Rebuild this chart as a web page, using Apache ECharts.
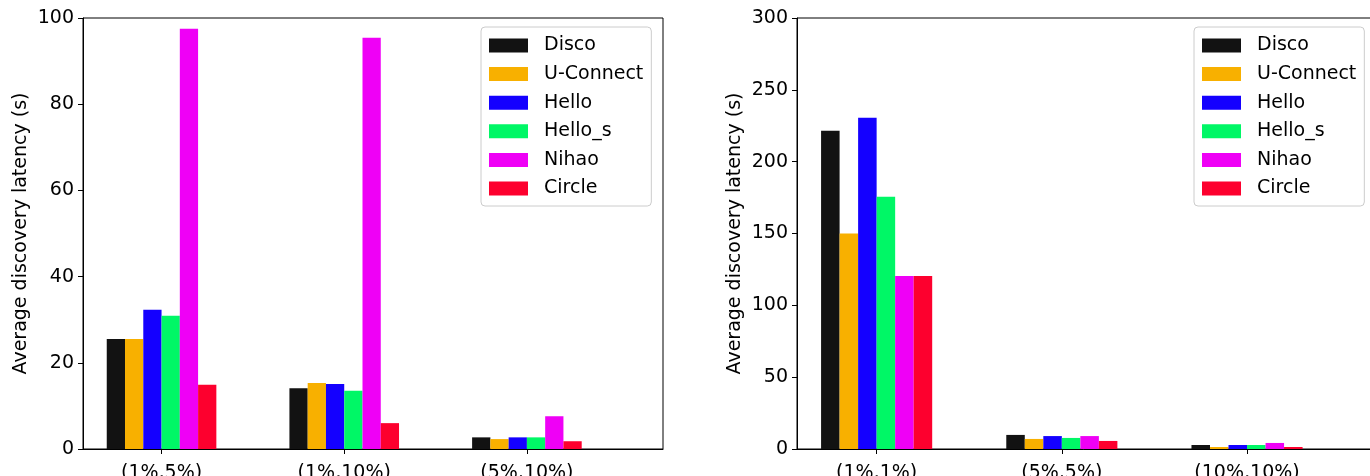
<!DOCTYPE html>
<html>
<head>
<meta charset="utf-8">
<title>Average discovery latency</title>
<script src="https://cdn.jsdelivr.net/npm/echarts@6/dist/echarts.min.js"></script>
<style>
  html, body { margin: 0; padding: 0; background: #fff; }
  #chart { width: 1370px; height: 476px; }
</style>
</head>
<body>
<div id="chart"></div>
<script>
// Protocol names and bar colours
const protocols = ['Disco', 'U-Connect', 'Hello', 'Hello_s', 'Nihao', 'Circle'];
const colors = ['#121212', '#f8b000', '#1400ff', '#00f766', '#ef00f6', '#fd002e'];

// Left panel: asymmetric duty-cycle pairs
const leftCategories = ['(1%,5%)', '(1%,10%)', '(5%,10%)'];
const leftDisco    = [25.5, 14.1, 2.7];
const leftUConnect = [25.5, 15.3, 2.3];
const leftHello    = [32.3, 15.1, 2.7];
const leftHelloS   = [30.9, 13.5, 2.7];
const leftNihao    = [97.5, 95.4, 7.6];
const leftCircle   = [14.9, 6.0, 1.8];

// Right panel: symmetric duty-cycle pairs
const rightCategories = ['(1%,1%)', '(5%,5%)', '(10%,10%)'];
const rightDisco    = [221.5, 9.8, 2.8];
const rightUConnect = [150.0, 7.0, 1.4];
const rightHello    = [230.5, 9.0, 2.8];
const rightHelloS   = [175.5, 7.7, 2.8];
const rightNihao    = [120.5, 9.0, 4.2];
const rightCircle   = [120.5, 5.6, 1.4];

const leftTicks = [0, 20, 40, 60, 80, 100];
const rightTicks = [0, 50, 100, 150, 200, 250, 300];

const leftSeries = [leftDisco, leftUConnect, leftHello, leftHelloS, leftNihao, leftCircle];
const rightSeries = [rightDisco, rightUConnect, rightHello, rightHelloS, rightNihao, rightCircle];

const FONT = 'DejaVu Sans';
const FS = 19;
const X_MIN = -0.43, X_MAX = 2.745;   // x range in category units
const BAR = 0.1;                       // bar width in category units

const grids = [
  { left: 83, top: 18, right: 707, bottom: 27 },
  { left: 797, top: 18, right: -15, bottom: 27 }
];

function xAxis(idx, cats) {
  return {
    type: 'value', gridIndex: idx, min: X_MIN, max: X_MAX,
    axisLine: { show: true, onZero: false, lineStyle: { color: '#000', width: 1 } },
    axisTick: { show: true, customValues: [0, 1, 2], length: 5, lineStyle: { color: '#000' } },
    axisLabel: {
      customValues: [0, 1, 2], margin: 15,
      formatter: v => cats[Math.round(v)],
      fontFamily: FONT, fontSize: FS, color: '#000'
    },
    splitLine: { show: false }
  };
}

function yAxis(idx, ticks) {
  return {
    type: 'value', gridIndex: idx,
    min: ticks[0], max: ticks[ticks.length - 1], interval: ticks[1] - ticks[0],
    name: 'Average discovery latency (s)', nameLocation: 'middle', nameGap: 52,
    nameTextStyle: { fontFamily: FONT, fontSize: FS, color: '#000' },
    axisLine: { show: true, onZero: false, lineStyle: { color: '#000', width: 1 } },
    axisTick: { show: true, length: 5, lineStyle: { color: '#000' } },
    axisLabel: { margin: 9, fontFamily: FONT, fontSize: FS, color: '#000' },
    splitLine: { show: false }
  };
}

function barPx(g) {
  const w = 1370 - g.left - g.right;
  return w / (X_MAX - X_MIN) * BAR;
}

function buildSeries(idx, values) {
  return values.map((vals, j) => ({
    name: protocols[j],
    type: 'bar',
    xAxisIndex: idx, yAxisIndex: idx,
    barWidth: barPx(grids[idx]),
    barGap: '-100%',
    itemStyle: { color: colors[j] },
    emphasis: { disabled: true },
    data: vals.map((v, i) => [i + (j - 2.5) * BAR, v])
  }));
}

function legend(left) {
  return {
    orient: 'vertical', left: left, top: 27,
    data: protocols, icon: 'rect',
    itemWidth: 39, itemHeight: 14, itemGap: 9.6,
    padding: [9, 8, 8, 8],
    backgroundColor: 'rgba(255,255,255,0.8)',
    borderColor: '#cccccc', borderWidth: 1, borderRadius: 4,
    textStyle: { fontFamily: FONT, fontSize: FS, lineHeight: 19, color: '#000', padding: [0, 0, 0, 11] },
    selectedMode: false
  };
}

const chart = echarts.init(document.getElementById('chart'), null, { renderer: 'canvas' });
chart.setOption({
  animation: false,
  backgroundColor: '#fff',
  grid: grids.map(g => Object.assign({
    show: true, borderColor: '#000', borderWidth: 1, backgroundColor: 'transparent',
    outerBoundsMode: 'none', containLabel: false
  }, g)),
  xAxis: [xAxis(0, leftCategories), xAxis(1, rightCategories)],
  yAxis: [yAxis(0, leftTicks), yAxis(1, rightTicks)],
  legend: [legend(481), legend(1194)],
  series: buildSeries(0, leftSeries).concat(buildSeries(1, rightSeries))
});
</script>
</body>
</html>
